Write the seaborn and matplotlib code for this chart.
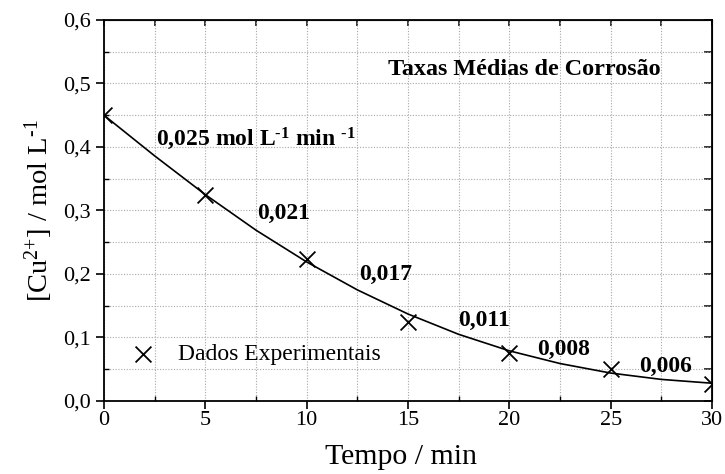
import matplotlib
matplotlib.use("Agg")
import matplotlib.pyplot as plt
from matplotlib.ticker import MultipleLocator, FixedLocator, FixedFormatter
import numpy as np
import pandas as pd
import seaborn as sns

# dados
tempo_exp = [0, 5, 10, 15, 20, 25, 30]
cu_exp = [0.450, 0.325, 0.223, 0.125, 0.075, 0.050, 0.027]

tempo_curva = [0, 2.5, 5, 7.5, 10, 12.5, 15, 17.5, 20, 22.5, 25, 27.5, 30]
cu_curva = [0.450, 0.386, 0.325, 0.269, 0.219, 0.175, 0.137, 0.105, 0.079, 0.059, 0.044, 0.034, 0.028]

taxas = ["0,025 mol L$^{\\mathbf{\u2010}\\mathbf{1}}$ min $^{\\mathbf{\u2010}\\mathbf{1}}$",
         "0,021", "0,017", "0,011", "0,008", "0,006"]
taxas_x = [2.55, 7.55, 12.6, 17.45, 21.35, 26.4]
taxas_y = [0.402, 0.286, 0.191, 0.118, 0.072, 0.046]

xticks = [0, 5, 10, 15, 20, 25, 30]
yticks = [0.0, 0.1, 0.2, 0.3, 0.4, 0.5, 0.6]
ytick_labels = ["0,0", "0,1", "0,2", "0,3", "0,4", "0,5", "0,6"]

sns.set_style("ticks")
plt.rcParams['font.family'] = ['Liberation Serif', 'DejaVu Serif']
plt.rcParams['mathtext.fontset'] = 'custom'
plt.rcParams['mathtext.rm'] = 'Liberation Serif'
plt.rcParams['mathtext.it'] = 'Liberation Serif:italic'
plt.rcParams['mathtext.bf'] = 'Liberation Serif:bold'
for k in ['text.color', 'axes.labelcolor', 'xtick.color', 'ytick.color', 'axes.edgecolor']:
    plt.rcParams[k] = 'black'

df_exp = pd.DataFrame({"tempo": tempo_exp, "cu": cu_exp})
df_curva = pd.DataFrame({"tempo": tempo_curva, "cu": cu_curva})

fig = plt.figure(figsize=(7.25, 4.74), dpi=100)
ax = fig.add_axes([0.14345, 0.15401, 0.83862, 0.80380])

sns.lineplot(data=df_curva, x="tempo", y="cu", color="black", linewidth=1.2, ax=ax)
sns.scatterplot(data=df_exp, x="tempo", y="cu", marker="x", color="black", s=130,
                linewidth=1.3, label="Dados Experimentais", ax=ax, zorder=3)

ax.set_xlim(0, 30)
ax.set_ylim(0, 0.6)
ax.xaxis.set_major_locator(FixedLocator(xticks))
ax.xaxis.set_minor_locator(MultipleLocator(2.5))
ax.yaxis.set_major_locator(FixedLocator(yticks))
ax.yaxis.set_major_formatter(FixedFormatter(ytick_labels))
ax.yaxis.set_minor_locator(MultipleLocator(0.05))

ax.grid(True, which="both", linestyle=(0, (1, 1.5)), color="#a8a8a8", linewidth=0.8)
ax.set_axisbelow(True)

for s in ax.spines.values():
    s.set_linewidth(1.3)
    s.set_visible(True)

ax.tick_params(which="major", direction="out", length=5.5, width=1.2, labelsize=16, pad=2)
ax.tick_params(which="minor", direction="in", length=3.8, width=1.0)
ax.tick_params(axis="y", which="major", pad=4)

# eixos superior e direito com marcas para dentro
top = ax.secondary_xaxis("top")
top.xaxis.set_major_locator(FixedLocator(xticks))
top.xaxis.set_minor_locator(MultipleLocator(2.5))
top.tick_params(which="both", direction="in", length=4.5, width=1.1, labeltop=False)
right = ax.secondary_yaxis("right")
right.yaxis.set_major_locator(FixedLocator(yticks))
right.yaxis.set_minor_locator(MultipleLocator(0.05))
right.tick_params(which="both", direction="in", length=5.5, width=1.1, labelright=False)

ax.set_xlabel("Tempo / min", fontsize=21.5, labelpad=2)
ax.xaxis.set_label_coords(0.488, -0.112)
ax.set_ylabel("[Cu$^{2{+}}$] / mol L$^{\\text{-1}}$", fontsize=20.5, labelpad=6)

for t, x, y in zip(taxas, taxas_x, taxas_y):
    ax.text(x, y, t, fontsize=17, fontweight="bold", ha="left", va="baseline")
ax.text(14.03, 0.513, "Taxas Médias de Corrosão", fontsize=17.4, fontweight="bold",
        ha="left", va="baseline")

ax.legend(loc="center left", bbox_to_anchor=(0.0446, 0.1234), frameon=False,
          fontsize=17, handlelength=1.0, handletextpad=1.0, borderpad=0,
          borderaxespad=0, markerscale=1.0)

fig.savefig("out.png", dpi=100)
